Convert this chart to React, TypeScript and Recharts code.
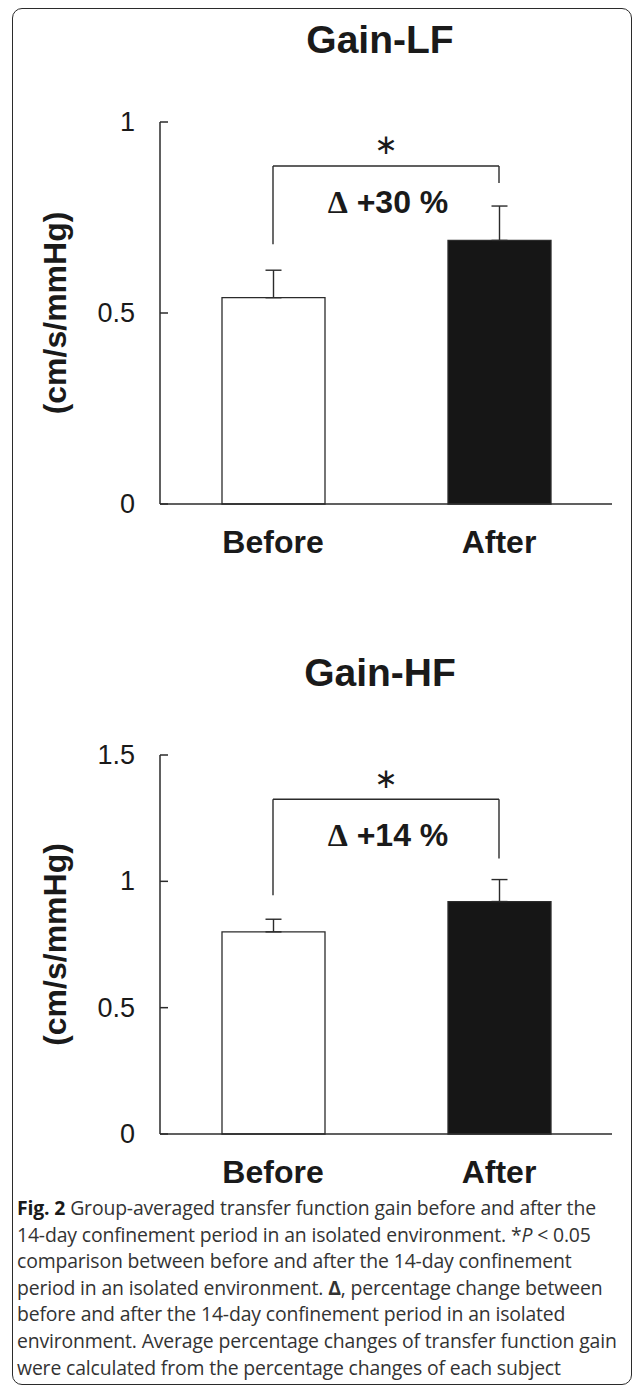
import React from "react";
import {
  BarChart,
  Bar,
  Cell,
  XAxis,
  YAxis,
  ErrorBar,
  ReferenceLine,
} from "recharts";

// values
const categories = ["Before", "After"];
const lfMeans = [0.54, 0.69];
const lfErrors = [0.072, 0.09];
const hfMeans = [0.8, 0.92];
const hfErrors = [0.05, 0.087];
const barFills = ["#ffffff", "#161616"];
const lfTicks = [0, 0.5, 1];
const hfTicks = [0, 0.5, 1, 1.5];
// bracket: [left leg bottom, top, right leg bottom]
const lfBracket = [0.68, 0.885, 0.84];
const hfBracket = [0.945, 1.325, 1.09];

const INK = "#2b2b2b";
const FONT = "'Liberation Sans', Arial, sans-serif";

const buildRows = (means: number[], errs: number[]) =>
  categories.map((name, i) => ({ name, value: means[i], err: [0, errs[i]] }));

const YTick = ({ x, y, payload }: any) => {
  const v = payload.value;
  return (
    <g>
      <line x1={x + 25} x2={x + 33} y1={y} y2={y} stroke={INK} strokeWidth={1.5} />
      <text
        x={x}
        y={y}
        textAnchor="end"
        dominantBaseline="central"
        fontSize={27}
        fontFamily={FONT}
        fill="#1a1a1a"
      >
        {String(v)}
      </text>
    </g>
  );
};

const YLabel = ({ viewBox }: any) => {
  const cy = viewBox.y + viewBox.height / 2;
  return (
    <text
      x={55}
      y={cy}
      transform={`rotate(-90, 55, ${cy})`}
      textAnchor="middle"
      dominantBaseline="central"
      fontSize={32}
      fontWeight="bold"
      fontFamily={FONT}
      fill="#1a1a1a"
    >
      (cm/s/mmHg)
    </text>
  );
};

const bracketLabel = (pct: string) => ({ viewBox }: any) => {
  const cx = viewBox.x + viewBox.width / 2;
  const y = viewBox.y;
  return (
    <g>
      <text
        x={cx}
        y={y - 21}
        textAnchor="middle"
        dominantBaseline="central"
        fontSize={28}
        fontFamily="'DejaVu Sans', sans-serif"
        fill="#1a1a1a"
      >
        ∗
      </text>
      <text
        x={cx + 2}
        y={y + 36}
        textAnchor="middle"
        dominantBaseline="central"
        fontSize={32}
        fontWeight="bold"
        fontFamily={FONT}
        fill="#1a1a1a"
      >
        <tspan fontFamily="'Liberation Serif', serif">Δ</tspan> {pct}
      </text>
    </g>
  );
};

function GainChart({
  title,
  means,
  errs,
  ticks,
  bracket,
  pct,
  height,
}: {
  title: string;
  means: number[];
  errs: number[];
  ticks: number[];
  bracket: number[];
  pct: string;
  height: number;
}) {
  const rows = buildRows(means, errs);
  const max = ticks[ticks.length - 1];
  return (
    <div style={{ position: "relative", width: 633, height: 633 }}>
      <div
        style={{
          position: "absolute",
          left: 180,
          width: 400,
          top: 17,
          textAlign: "center",
          fontFamily: FONT,
          fontWeight: "bold",
          fontSize: 39,
          lineHeight: "46px",
          color: "#1a1a1a",
        }}
      >
        {title}
      </div>
      <div style={{ position: "absolute", left: 0, top: 0 }}>
        <BarChart
          width={633}
          height={height}
          data={rows}
          margin={{ top: 122, right: 21, bottom: 0, left: 0 }}
          barSize={103}
        >
          <XAxis
            dataKey="name"
            tickLine={false}
            tickSize={0}
            tickMargin={26}
            height={76}
            axisLine={{ stroke: INK, strokeWidth: 1.5 }}
            tick={{ fontSize: 32, fontWeight: "bold", fontFamily: FONT, fill: "#1a1a1a" }}
          />
          <YAxis
            width={160}
            domain={[0, max]}
            ticks={ticks}
            tickLine={false}
            tickSize={0}
            tickMargin={25}
            axisLine={{ stroke: INK, strokeWidth: 1.5 }}
            tick={<YTick />}
            label={YLabel}
          />
          <Bar dataKey="value" isAnimationActive={false} stroke={INK} strokeWidth={1.3}>
            {rows.map((r, i) => (
              <Cell key={r.name} fill={barFills[i]} />
            ))}
            <ErrorBar
              dataKey="err"
              direction="y"
              width={8}
              stroke={INK}
              strokeWidth={1.4}
              isAnimationActive={false}
            />
          </Bar>
          <ReferenceLine
            segment={[
              { x: categories[0], y: bracket[1] },
              { x: categories[1], y: bracket[1] },
            ]}
            stroke={INK}
            strokeWidth={1.4}
            label={bracketLabel(pct)}
          />
          <ReferenceLine
            segment={[
              { x: categories[0], y: bracket[0] },
              { x: categories[0], y: bracket[1] },
            ]}
            stroke={INK}
            strokeWidth={1.4}
          />
          <ReferenceLine
            segment={[
              { x: categories[1], y: bracket[2] },
              { x: categories[1], y: bracket[1] },
            ]}
            stroke={INK}
            strokeWidth={1.4}
          />
        </BarChart>
      </div>
    </div>
  );
}

export default function App() {
  return (
    <div
      style={{
        position: "absolute",
        left: 0,
        top: 0,
        width: 633,
        height: 1387,
        background: "#fff",
        overflow: "hidden",
      }}
    >
      <div
        style={{
          position: "absolute",
          left: 12,
          top: 8,
          width: 620,
          height: 1377,
          border: `1.5px solid ${INK}`,
          borderRadius: 10,
          boxSizing: "border-box",
        }}
      />
      <div style={{ position: "absolute", left: 0, top: 0 }}>
        <GainChart
          title="Gain-LF"
          means={lfMeans}
          errs={lfErrors}
          ticks={lfTicks}
          bracket={lfBracket}
          pct="+30 %"
          height={580}
        />
      </div>
      <div style={{ position: "absolute", left: 0, top: 633 }}>
        <GainChart
          title="Gain-HF"
          means={hfMeans}
          errs={hfErrors}
          ticks={hfTicks}
          bracket={hfBracket}
          pct="+14 %"
          height={577}
        />
      </div>
      <div
        style={{
          position: "absolute",
          left: 17,
          top: 1195,
          width: 612,
          fontFamily: "'Open Sans', sans-serif",
          fontSize: 19.4,
          lineHeight: "26.6px",
          color: "#333",
          whiteSpace: "nowrap",
          letterSpacing: -0.15,
        }}
      >
        <b style={{ color: "#1a1a1a" }}>Fig. 2</b> Group-averaged transfer function gain before and after the
        <br />
        14-day confinement period in an isolated environment. *<i>P</i> &lt; 0.05
        <br />
        comparison between before and after the 14-day confinement
        <br />
        period in an isolated environment. <b>Δ</b>, percentage change between
        <br />
        before and after the 14-day confinement period in an isolated
        <br />
        environment. Average percentage changes of transfer function gain
        <br />
        were calculated from the percentage changes of each subject
      </div>
    </div>
  );
}
